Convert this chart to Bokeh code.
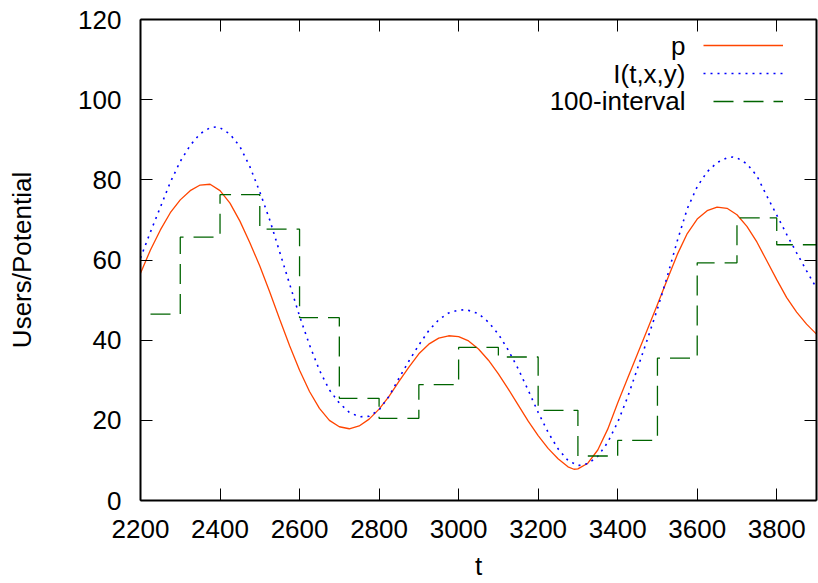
from bokeh.plotting import figure
from bokeh.models import LinearAxis, Legend, LegendItem, FixedTicker, Range1d, Label
from bokeh.embed import file_html
from bokeh.resources import INLINE

# ---- data ----
t_p = [2200, 2225, 2250, 2275, 2300, 2325, 2350, 2375, 2400, 2425, 2450, 2475,
       2500, 2525, 2550, 2575, 2600, 2625, 2650, 2675, 2700, 2725, 2750, 2775,
       2800, 2825, 2850, 2875, 2900, 2925, 2950, 2975, 3000, 3025, 3050, 3075,
       3100, 3125, 3150, 3175, 3200, 3225, 3250, 3275, 3290, 3300, 3325, 3350,
       3375, 3400, 3425, 3450, 3475, 3500, 3525, 3550, 3575, 3600, 3625, 3650,
       3675, 3700, 3725, 3750, 3775, 3800, 3825, 3850, 3875, 3900]
p_vals = [56.7, 62.5, 67.5, 71.8, 75.0, 77.3, 78.7, 78.9, 77.3, 74.2, 69.7, 64.3,
          58.5, 52.0, 45.2, 38.6, 32.5, 27.2, 23.0, 20.0, 18.4, 17.9, 18.6, 20.3,
          22.8, 26.0, 29.7, 33.3, 36.6, 39.0, 40.5, 41.1, 40.9, 39.8, 37.8, 35.0,
          31.6, 27.8, 23.8, 19.8, 16.2, 13.0, 10.4, 8.4, 7.8, 7.9, 9.3, 12.6,
          17.8, 24.3, 30.5, 36.6, 42.7, 48.9, 55.2, 61.4, 66.6, 70.2, 72.3, 73.2,
          72.9, 71.3, 68.4, 64.5, 59.8, 55.1, 50.6, 47.0, 44.0, 41.5]

t_i = [2200, 2225, 2250, 2275, 2300, 2325, 2350, 2375, 2390, 2400, 2425, 2450,
       2475, 2500, 2525, 2550, 2575, 2600, 2625, 2650, 2675, 2700, 2725, 2750,
       2775, 2800, 2825, 2850, 2875, 2900, 2925, 2950, 2975, 3000, 3020, 3050,
       3075, 3100, 3125, 3150, 3175, 3200, 3225, 3250, 3275, 3300, 3325, 3350,
       3375, 3400, 3425, 3450, 3475, 3500, 3525, 3550, 3575, 3600, 3625, 3650,
       3675, 3690, 3700, 3725, 3750, 3775, 3800, 3825, 3850, 3875, 3900]
i_vals = [60.5, 67.0, 73.2, 79.4, 84.6, 88.6, 91.5, 93.0, 93.2, 93.0, 91.4, 88.3,
          83.3, 77.0, 70.0, 62.0, 54.0, 46.0, 38.8, 32.5, 27.6, 24.3, 22.0, 20.9,
          21.0, 22.6, 26.0, 30.5, 34.8, 38.8, 42.4, 45.1, 46.8, 47.5, 47.6, 46.6,
          44.5, 41.5, 37.5, 32.8, 27.5, 22.0, 17.0, 12.9, 10.0, 8.7, 9.2, 11.0,
          14.5, 19.5, 25.8, 33.0, 40.3, 47.8, 56.0, 64.8, 72.8, 78.3, 82.0, 84.3,
          85.5, 85.7, 85.5, 84.0, 81.0, 76.0, 71.2, 66.4, 61.8, 57.3, 53.0]

interval_start = [2200, 2300, 2400, 2500, 2600, 2700, 2800, 2900, 3000, 3100,
                  3200, 3300, 3400, 3500, 3600, 3700, 3800]
interval_vals = [46.5, 65.7, 76.3, 67.7, 45.6, 25.5, 20.5, 28.9, 38.2, 35.8,
                 22.5, 11.1, 15.0, 35.5, 59.3, 70.5, 63.8]
interval_end = 3900

x_ticks = [2200, 2400, 2600, 2800, 3000, 3200, 3400, 3600, 3800]
y_ticks = [0, 20, 40, 60, 80, 100, 120]

series_labels = ["p", "I(t,x,y)", "100-interval"]
x_label = "t"
y_label = "Users/Potential"

FONT = "Liberation Sans"
FS = "26px"

p = figure(width=818, height=583,
           x_range=Range1d(2200, 3900), y_range=Range1d(0, 120),
           output_backend="svg", toolbar_location=None,
           min_border_left=140, min_border_right=2,
           min_border_top=19, min_border_bottom=82)
p.grid.visible = False
p.outline_line_color = None
p.background_fill_color = "white"
p.border_fill_color = "white"

r_p = p.line(t_p, p_vals, line_color="#ff4500", line_width=1.3)
r_i = p.line(t_i, i_vals, line_color="#0000ff", line_width=1.6, line_dash="2 5")
step_x = interval_start + [interval_end]
step_y = interval_vals + [interval_vals[-1]]
r_s = p.step(step_x, step_y, mode="after", line_color="#006400", line_width=1.3,
             line_dash="20 10", line_dash_offset=20)

xa = p.xaxis[0]
ya = p.yaxis[0]
xa.ticker = FixedTicker(ticks=x_ticks)
ya.ticker = FixedTicker(ticks=y_ticks)

top = LinearAxis(ticker=FixedTicker(ticks=x_ticks))
right = LinearAxis(ticker=FixedTicker(ticks=y_ticks))
p.add_layout(top, "above")
p.add_layout(right, "right")

for ax, show in ((xa, True), (ya, True), (top, False), (right, False)):
    ax.major_tick_in = 12
    ax.major_tick_out = 0
    ax.minor_tick_line_color = None
    ax.major_tick_line_color = "black"
    ax.major_tick_line_width = 1
    ax.axis_line_color = "black"
    ax.axis_line_width = 2
    if show:
        ax.major_label_text_font = FONT
        ax.major_label_text_font_size = FS
        ax.major_label_text_color = "black"
        ax.axis_label_text_font = FONT
        ax.axis_label_text_font_size = FS
        ax.axis_label_text_font_style = "normal"
        ax.axis_label_text_color = "black"
    else:
        ax.major_label_text_font_size = "0px"
        ax.major_label_text_color = None
        ax.major_label_standoff = 0

xa.axis_label = x_label
xa.major_label_standoff = 19
xa.axis_label_standoff = 10
ya.axis_label = y_label
ya.major_label_standoff = 19
ya.axis_label_standoff = 38

# legend: samples drawn by a Bokeh legend, names as right-aligned labels to their left
renderers = [r_p, r_i, r_s]
leg_glyph = Legend(items=[LegendItem(label=" ", renderers=[r]) for r in renderers],
                   location=(563, 385), glyph_width=80, glyph_height=28, label_height=28,
                   label_standoff=0, padding=0, spacing=0, margin=0,
                   border_line_color=None, background_fill_alpha=0,
                   label_text_font=FONT, label_text_font_size="16px")
p.add_layout(leg_glyph)

row_y = [455, 427, 400]
for lab, yy in zip(series_labels, row_y):
    p.add_layout(Label(x=545, y=yy, x_units="screen", y_units="screen", text=lab,
                       text_align="right", text_baseline="middle",
                       text_font=FONT, text_font_size=FS, text_color="black"))

open("out.html", "w").write(file_html(p, INLINE))
